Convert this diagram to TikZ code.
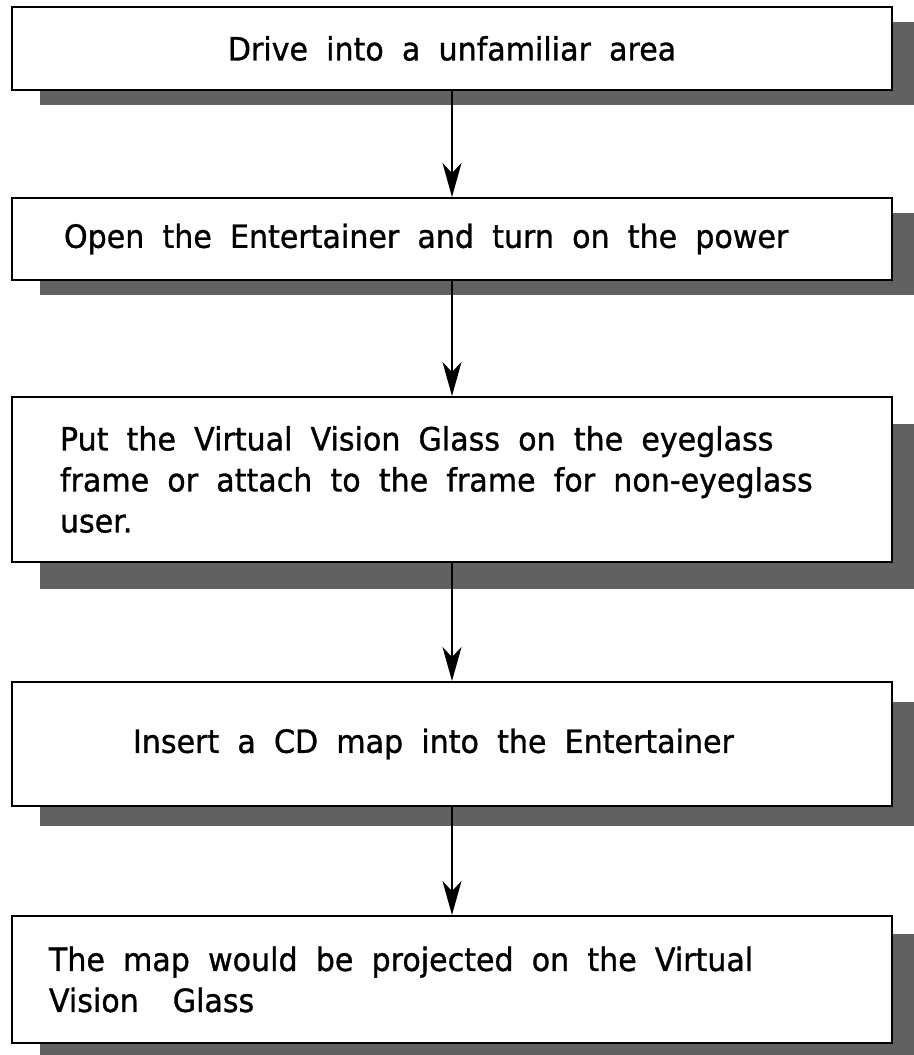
\documentclass[tikz,border=0pt]{standalone}
\usepackage{fontspec}
\setmainfont[FakeStretch=0.94,WordSpace=1.9,FakeBold=1]{DejaVu Sans}
\usepackage{tikz}
\usetikzlibrary{arrows.meta,positioning,shadows}

\begin{document}
\begin{tikzpicture}[
  node distance=55pt,
  box/.style={draw=black,line width=1pt,fill=white,minimum width=440pt,
              inner xsep=0pt,font=\fontsize{16}{20.5}\selectfont,
              execute at begin node={\spaceskip=0pt\xspaceskip=0pt\relax}},
  shadowed/.style={drop shadow={shadow xshift=14pt,shadow yshift=-#1,
                   fill=black!62,opacity=1}},
  arrow/.style={-{Stealth[length=17pt,width=9.5pt,inset=5pt]},line width=0.9pt}
]
\useasboundingbox (0,0) rectangle (457pt,-527.5pt);
\node[box,shadowed=7.5pt,minimum height=41.5pt,align=center] (drive) at (226pt,-24.25pt)
  {Drive into a unfamiliar area};
\node[box,shadowed=7.5pt,minimum height=41pt,below=53pt of drive,
      align=left,inner xsep=26pt,text width=388pt] (power)
  {Open the Entertainer and turn on the power};
\node[box,shadowed=13.5pt,minimum height=82.5pt,below=57.5pt of power,
      align=left,inner xsep=24pt,text width=392pt] (glass)
  {Put the Virtual Vision Glass on the eyeglass\\frame or attach to the frame for non-eyeglass\\user.};
\node[box,shadowed=10pt,minimum height=62pt,below=59pt of glass,
      align=left,inner xsep=60.5pt,text width=319pt] (cdmap)
  {Insert a CD map into the Entertainer};
\node[box,shadowed=9pt,minimum height=63.5pt,below=54pt of cdmap,
      align=left,inner xsep=18.5pt,text width=403pt] (project)
  {The map would be projected on the Virtual\\Vision\hspace{17pt}Glass};
\draw[arrow] (drive)--(power);
\draw[arrow] (power)--(glass);
\draw[arrow] (glass)--(cdmap);
\draw[arrow] (cdmap)--(project);
\end{tikzpicture}
\end{document}
